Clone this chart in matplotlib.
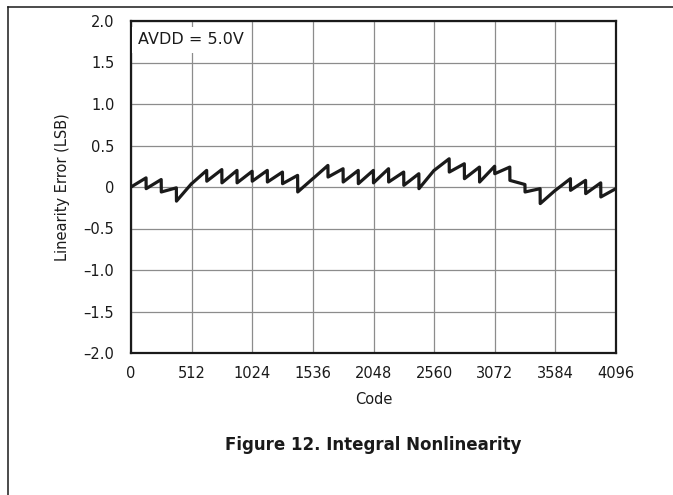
import numpy as np
import matplotlib.pyplot as plt
from matplotlib.lines import Line2D

plt.rcParams['font.family'] = ['DejaVu Sans']

# INL: each 128-code segment ramps from start to end value
seg_start = [0.00, -0.02, -0.06, -0.17, 0.04, 0.07, 0.05, 0.05,
             0.07, 0.06, 0.04, -0.06, 0.10, 0.12, 0.06, 0.04,
             0.05, 0.06, 0.02, -0.02, 0.20, 0.18, 0.10, 0.06,
             0.16, 0.08, -0.06, -0.20, -0.04, -0.04, -0.08, -0.12]
seg_end = [0.11, 0.09, -0.01, 0.04, 0.20, 0.21, 0.20, 0.19,
           0.20, 0.18, 0.14, 0.10, 0.26, 0.22, 0.20, 0.20,
           0.22, 0.18, 0.16, 0.20, 0.34, 0.28, 0.24, 0.25,
           0.24, 0.03, -0.02, -0.04, 0.10, 0.08, 0.05, -0.02]
seg_len = 128

x_ticks = [0, 512, 1024, 1536, 2048, 2560, 3072, 3584, 4096]
y_ticks = [-2.0, -1.5, -1.0, -0.5, 0, 0.5, 1.0, 1.5, 2.0]
y_labels = ['–2.0', '–1.5', '–1.0', '–0.5', '0', '0.5', '1.0', '1.5', '2.0']

codes = []
vals = []
for k in range(len(seg_start)):
    codes += [k * seg_len, k * seg_len + seg_len - 1]
    vals += [seg_start[k], seg_end[k]]

fig = plt.figure(figsize=(6.73, 4.95), dpi=100)
ax = fig.add_axes([131 / 673, 1 - 353 / 495, 485 / 673, 332 / 495])

ax.plot(codes, vals, color='#1a1a1a', lw=2.3, zorder=3)

ax.set_xlim(0, 4096)
ax.set_ylim(-2, 2)
ax.set_xticks(x_ticks)
ax.set_yticks(y_ticks)
ax.set_yticklabels(y_labels)
ax.tick_params(length=0, labelsize=10.5, colors='#1a1a1a')
ax.tick_params(axis='x', pad=9)
ax.tick_params(axis='y', pad=12)
ax.grid(True, color='#8c8c8c', lw=0.9)
ax.set_axisbelow(True)
for s in ax.spines.values():
    s.set_linewidth(1.6)
    s.set_color('#1a1a1a')

ax.set_xlabel('Code', fontsize=10.5, labelpad=8, color='#1a1a1a')
ax.set_ylabel('Linearity Error (LSB)', fontsize=10.5, labelpad=10, color='#1a1a1a')

ax.text(0.014, 0.943, 'AVDD = 5.0V', transform=ax.transAxes, fontsize=11.5,
        va='center', ha='left', color='#1a1a1a', zorder=4,
        bbox=dict(facecolor='white', edgecolor='none', pad=4))

fig.text(373 / 673, 1 - 445 / 495, 'Figure 12. Integral Nonlinearity',
         ha='center', va='center', fontsize=12, fontweight='bold', color='#1a1a1a')

# page frame lines (top and left)
fig.add_artist(Line2D([8 / 673, 1], [1 - 7 / 495, 1 - 7 / 495],
                      transform=fig.transFigure, color='#1a1a1a', lw=1.1))
fig.add_artist(Line2D([8 / 673, 8 / 673], [0, 1 - 7 / 495],
                      transform=fig.transFigure, color='#1a1a1a', lw=1.1))

fig.savefig('out.png', dpi=100)
